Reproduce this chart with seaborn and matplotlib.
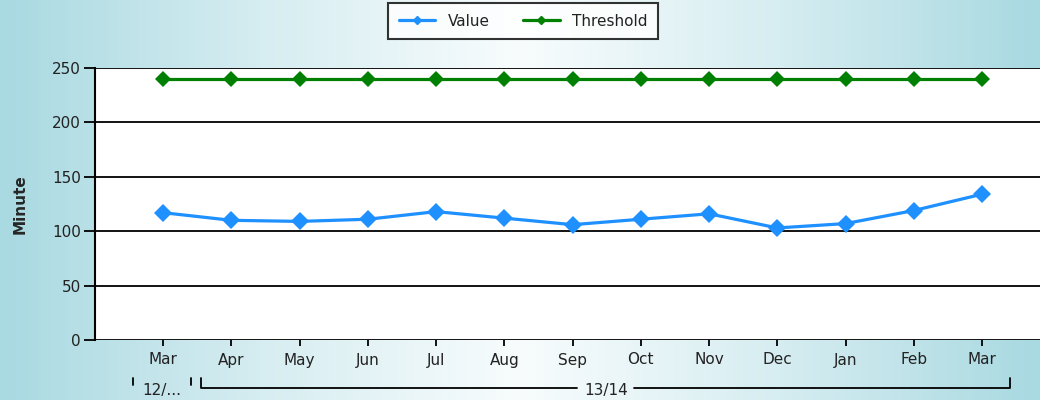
import numpy as np
import pandas as pd
import matplotlib
matplotlib.use("Agg")
import matplotlib.pyplot as plt
import matplotlib.transforms as mtransforms
from matplotlib.lines import Line2D
from matplotlib.colors import LinearSegmentedColormap
import seaborn as sns

# dados
months = ["Mar", "Apr", "May", "Jun", "Jul", "Aug", "Sep",
          "Oct", "Nov", "Dec", "Jan", "Feb", "Mar"]
value = [117, 110, 109, 111, 118, 112, 106, 111, 116, 103, 107, 119, 134]
threshold = [240] * 13
groups = ["12/...", "13/14"]
group_spans = [(0, 0), (1, 12)]
yticks = [0, 50, 100, 150, 200, 250]

sns.set_style("white")
plt.rcParams["font.family"] = ["DejaVu Sans"]

fig = plt.figure(figsize=(10.4, 4), dpi=100)

# fundo em gradiente
bg = fig.add_axes([0, 0, 1, 1], zorder=-10)
cmap = LinearSegmentedColormap.from_list(
    "bg", ["#a9d9e1", "#d6edf1", "#f8fcfd", "#d6edf1", "#a9d9e1"])
bg.imshow(np.linspace(0, 1, 256)[None, :], aspect="auto", cmap=cmap,
          extent=[0, 1, 0, 1])
bg.axis("off")

ax = fig.add_axes([95 / 1040, 60 / 400, 1 - 95 / 1040, 272 / 400])
ax.set_facecolor("white")

x = np.arange(len(months))
df = pd.DataFrame({"x": x, "Value": value, "Threshold": threshold})

sns.lineplot(data=df, x="x", y="Threshold", ax=ax, color="#008000",
             linewidth=2.3, marker="D", markersize=8, markeredgewidth=0)
sns.lineplot(data=df, x="x", y="Value", ax=ax, color="#1e90ff",
             linewidth=2.3, marker="D", markersize=9, markeredgewidth=0)

ax.set_xlim(-1, 12.85)
ax.set_ylim(0, 250)
ax.set_yticks(yticks)
ax.set_xticks(x)
ax.set_xticklabels(months)
ax.yaxis.grid(True, color="black", linewidth=1.3)
ax.set_axisbelow(True)
for s in ["top", "right", "bottom"]:
    ax.spines[s].set_visible(False)
ax.spines["left"].set_color("black")
ax.spines["left"].set_linewidth(1.5)
ax.tick_params(axis="y", left=True, length=8, width=1.3, color="black",
               labelsize=11, labelcolor="#222222", pad=2)
ax.tick_params(axis="x", bottom=True, length=4, width=1.3, color="black",
               labelsize=11, labelcolor="#222222", pad=5)
ax.set_xlabel("")
ax.set_ylabel("Minute", fontsize=11, fontweight="bold", labelpad=18)

# parêntesis dos grupos
trans = mtransforms.blended_transform_factory(ax.transData, ax.transAxes)
yb = -48 / 272
yt = -38 / 272
for name, (a, b) in zip(groups, group_spans):
    x0, x1 = a - 0.44, b + 0.41
    xm = (x0 + x1) / 2
    ax.text(xm, yb - 0.01, name, transform=trans, ha="center", va="center",
            fontsize=11, color="#222222")
    if b > a:
        half = 0.42
        ax.plot([x0, x0, xm - half], [yt, yb, yb], transform=trans,
                color="black", lw=1.3, clip_on=False)
        ax.plot([xm + half, x1, x1], [yb, yb, yt], transform=trans,
                color="black", lw=1.3, clip_on=False)
    else:
        ax.plot([x0, x0], [yt, yb + 0.01], transform=trans, color="black",
                lw=1.3, clip_on=False)
        ax.plot([x1, x1], [yt, yb + 0.01], transform=trans, color="black",
                lw=1.3, clip_on=False)

handles = [
    Line2D([], [], color="#1e90ff", lw=2.3, marker="D", markersize=4),
    Line2D([], [], color="#008000", lw=2.3, marker="D", markersize=4),
]
leg = fig.legend(handles, ["Value", "Threshold"], loc="center",
                 bbox_to_anchor=(523 / 1040, 1 - 21 / 400), ncol=2,
                 frameon=True, fancybox=False, fontsize=11,
                 handlelength=2.4, columnspacing=2.2, borderpad=0.7,
                 borderaxespad=0)
leg.get_frame().set_edgecolor("black")
leg.get_frame().set_linewidth(1.5)
for t in leg.get_texts():
    t.set_color("#222222")

fig.savefig("out.png", dpi=100)
